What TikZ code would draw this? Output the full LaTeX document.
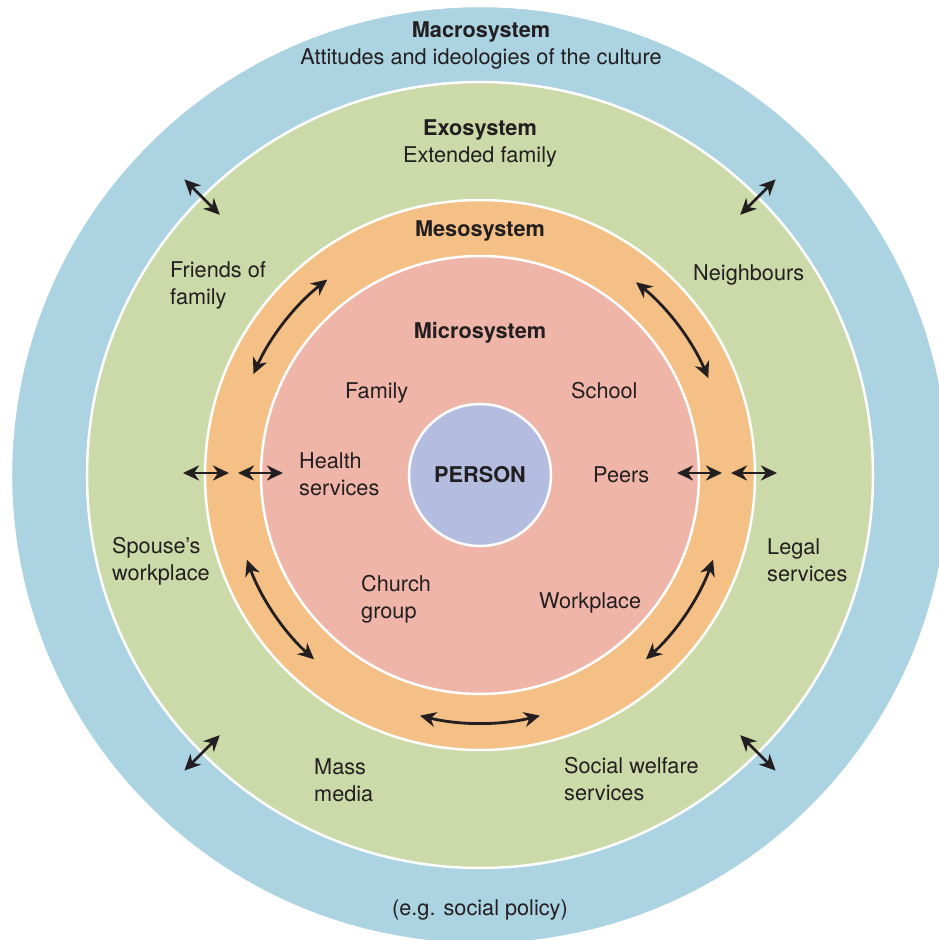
\documentclass[tikz,border=0pt]{standalone}
\usepackage{fontspec}
\setmainfont{TeX Gyre Heros}
\usetikzlibrary{arrows.meta}

\definecolor{macroblue}{RGB}{171,211,225}
\definecolor{exogreen}{RGB}{204,217,168}
\definecolor{mesoorange}{RGB}{244,192,134}
\definecolor{micropink}{RGB}{240,181,169}
\definecolor{personblue}{RGB}{180,188,224}
\definecolor{ink}{RGB}{35,31,32}

\tikzset{
	ring/.style={draw=white, line width=2.5pt},
	plaintext/.style={font=\fontsize{21.7}{27}\selectfont, text=ink, inner sep=0pt, align=left},
	boldtext/.style={plaintext, font=\fontsize{21.7}{27}\selectfont\bfseries},
	link/.style={draw=ink, line width=2.8pt,
		{Stealth[length=16pt, width=15pt, inset=5pt]}-{Stealth[length=16pt, width=15pt, inset=5pt]}}
}

\begin{document}
\begin{tikzpicture}[x=1pt, y=1pt]
	\def \rmacro{469}
	\def \rexo{393}
	\def \rmeso{275}
	\def \rmicro{219}
	\def \rperson{71}
	\def \rarc{248}

	\useasboundingbox (-480,-465) rectangle (459,475);

	% Rings
	\draw[ring, fill=macroblue] (0,0) circle [radius=\rmacro];
	\draw[ring, fill=exogreen] (0,0) circle [radius=\rexo];
	\draw[ring, fill=mesoorange] (0,0) circle [radius=\rmeso];
	\draw[ring, fill=micropink] (0,0) circle [radius=\rmicro];
	\node[ring, fill=personblue, circle, minimum size=2*\rperson, boldtext] (person) at (0,0) {PERSON};

	% Macrosystem
	\node[boldtext, anchor=north] (macro) at (1,454) {Macrosystem};
	\node[plaintext, anchor=north] (macrotext) at (1,427) {Attitudes and ideologies of the culture};
	\node[plaintext, anchor=north] (policy) at (0,-424.5) {(e.g. social policy)};

	% Exosystem
	\node[boldtext, anchor=north] (exo) at (0,355.5) {Exosystem};
	\node[plaintext, anchor=north] (exotext) at (0,329) {Extended family};
	\node[plaintext, anchor=north west] (friends) at (-310,213.5) {Friends of\\family};
	\node[plaintext, anchor=north west] (neighbours) at (213,211) {Neighbours};
	\node[plaintext, anchor=north west] (spouse) at (-368,-62) {Spouse's\\workplace};
	\node[plaintext, anchor=north west] (legal) at (287,-63.5) {Legal\\services};
	\node[plaintext, anchor=north west] (media) at (-166,-283.5) {Mass\\media};
	\node[plaintext, anchor=north west] (welfare) at (84,-282.3) {Social welfare\\services};

	% Mesosystem
	\node[boldtext, anchor=north] (meso) at (0,254.5) {Mesosystem};

	% Microsystem
	\node[boldtext, anchor=north] (micro) at (0,152.5) {Microsystem};
	\node[plaintext, anchor=north west] (family) at (-135,92.5) {Family};
	\node[plaintext, anchor=north west] (school) at (91,92.5) {School};
	\node[plaintext, anchor=north west] (health) at (-181,22.5) {Health\\services};
	\node[plaintext, anchor=north west] (peers) at (113,8.5) {Peers};
	\node[plaintext, anchor=north west] (church) at (-119,-100.5) {Church\\group};
	\node[plaintext, anchor=north west] (workplace) at (59,-117.5) {Workplace};

	% Links across the exosystem border
	\foreach \ang in {45,135,225,315}
		\draw[link] (\ang:368) -- (\ang:418);

	% Links across the meso and micro borders
	\foreach \sgn in {-1,1} {
		\draw[link] (\sgn*197,2) -- (\sgn*242,2);
		\draw[link] (\sgn*251,2) -- (\sgn*297,2);
	}

	% Links within the mesosystem
	\foreach \mid in {37,142,214,270,326}
		\draw[link] ({\mid-14}:\rarc) arc [start angle=\mid-14, end angle=\mid+14, radius=\rarc];

\end{tikzpicture}
\end{document}
